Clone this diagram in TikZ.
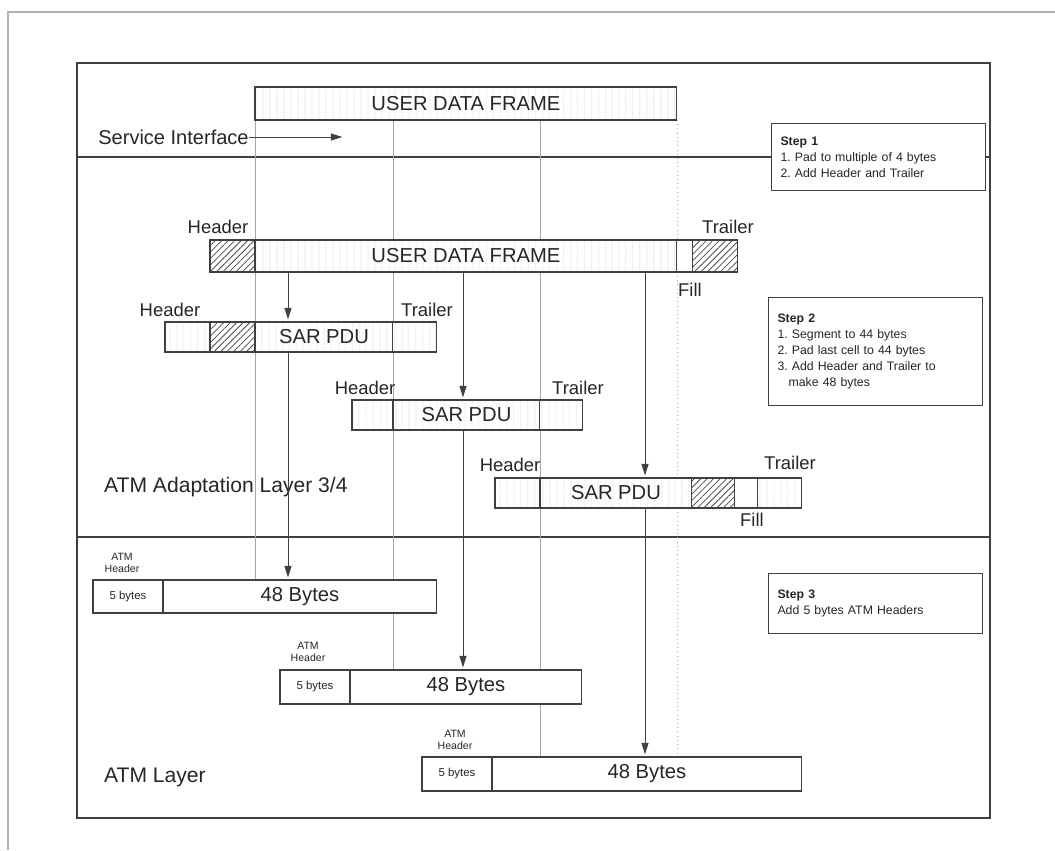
\documentclass[tikz,border=0pt]{standalone}
\usepackage{fontspec}
\setmainfont{Liberation Sans}
\usetikzlibrary{positioning,arrows.meta,patterns.meta}
\pgfdeclarelayer{background}
\pgfsetlayers{background,main}
\frenchspacing

\begin{document}
\begin{tikzpicture} [
    x=0.02cm, y=-0.02cm,
    every node/.style={text=black!85},
    seg/.style={rectangle, draw=black!75, line width=0.6pt, inner sep=0pt, outer sep=0pt, anchor=north west},
    plain/.style={seg, fill=white},
    light/.style={seg, preaction={fill=white}, pattern={Lines[angle=90,distance=4pt,line width=0.3pt]}, pattern color=gray!35},
    hatch/.style={seg, preaction={fill=white}, pattern={Lines[angle=45,distance=2.6pt,line width=0.45pt]}, pattern color=black!70},
    txt/.style={font=\fontsize{11.5}{13}\selectfont},
    lbl/.style={font=\fontsize{10.5}{12}\selectfont},
    layer/.style={font=\fontsize{12}{14}\selectfont, anchor=west},
    cellfont/.style={font=\fontsize{6.5}{7.5}\selectfont},
    hdrlbl/.style={font=\fontsize{6}{7}\selectfont, align=center},
    stepbox/.style={rectangle, draw=black!75, line width=0.6pt, fill=white, anchor=north west, align=left, text width=3.92cm, inner xsep=0.18cm, font=\fontsize{7}{9}\selectfont},
    arr/.style={-{Triangle[length=6.5pt,width=4pt]}, line width=0.5pt, draw=black!75, shorten >=1.5pt},
    guide/.style={line width=0.4pt, draw=gray!70},
    frame/.style={line width=0.8pt, draw=black!75}
]
\useasboundingbox (0,0) rectangle (1055,850);

% Service interface
\node[light, minimum width=8.44cm, minimum height=0.66cm, txt] (u0) at (255,87) {USER DATA FRAME};
\node[lbl, anchor=west, inner xsep=0pt, font=\fontsize{11.4}{13}\selectfont] (svc) at (98,137) {Service Interface};
\coordinate (svcend) at (345,137);

% Adaptation layer: frame with header and trailer
\node[hatch, minimum width=0.9cm, minimum height=0.64cm] (h2) at (210,240) {};
\node[light, right=0pt of h2, minimum width=8.44cm, minimum height=0.64cm, txt] (u2) {USER DATA FRAME};
\node[plain, right=0pt of u2, minimum width=0.32cm, minimum height=0.64cm] (f2) {};
\node[hatch, right=0pt of f2, minimum width=0.9cm, minimum height=0.64cm] (t2) {};

% Segments
\node[light, minimum width=0.9cm, minimum height=0.6cm] (s1x) at (165,322) {};
\node[hatch, right=0pt of s1x, minimum width=0.9cm, minimum height=0.6cm] (s1h) {};
\node[light, right=0pt of s1h, minimum width=2.76cm, minimum height=0.6cm, txt] (s1) {SAR PDU};
\node[light, right=0pt of s1, minimum width=0.88cm, minimum height=0.6cm] (s1t) {};

\node[light, minimum width=0.82cm, minimum height=0.6cm] (s2h) at (352,400) {};
\node[light, right=0pt of s2h, minimum width=2.94cm, minimum height=0.6cm, txt] (s2) {SAR PDU};
\node[light, right=0pt of s2, minimum width=0.86cm, minimum height=0.6cm] (s2t) {};

\node[light, minimum width=0.9cm, minimum height=0.6cm] (s3h) at (495,478) {};
\node[light, right=0pt of s3h, minimum width=3.04cm, minimum height=0.6cm, txt] (s3) {SAR PDU};
\node[hatch, right=0pt of s3, minimum width=0.86cm, minimum height=0.6cm] (s3x) {};
\node[plain, right=0pt of s3x, minimum width=0.46cm, minimum height=0.6cm] (s3f) {};
\node[light, right=0pt of s3f, minimum width=0.88cm, minimum height=0.6cm] (s3t) {};

% ATM cells
\node[plain, minimum width=1.4cm, minimum height=0.66cm, cellfont] (c1h) at (93,580) {5 bytes};
\node[plain, right=0pt of c1h, minimum width=5.48cm, minimum height=0.66cm, txt] (c1) {48 Bytes};
\node[plain, minimum width=1.4cm, minimum height=0.68cm, cellfont] (c2h) at (280,670) {5 bytes};
\node[plain, right=0pt of c2h, minimum width=4.64cm, minimum height=0.68cm, txt] (c2) {48 Bytes};
\node[plain, minimum width=1.4cm, minimum height=0.68cm, cellfont] (c3h) at (422,757) {5 bytes};
\node[plain, right=0pt of c3h, minimum width=6.2cm, minimum height=0.68cm, txt] (c3) {48 Bytes};

% Steps
\node[stepbox, minimum height=1.34cm] (step1) at (771,123) {\textbf{Step 1}\\1. Pad to multiple of 4 bytes\\2. Add Header and Trailer};
\node[stepbox, minimum height=2.16cm] (step2) at (768,297) {\textbf{Step 2}\\1. Segment to 44 bytes\\2. Pad last cell to 44 bytes\\3. Add Header and Trailer to\\\hspace*{0.9em}make 48 bytes};
\node[stepbox, minimum height=1.2cm] (step3) at (768,573) {\textbf{Step 3}\\Add 5 bytes ATM Headers};

% Labels
\node[lbl] (lh2) at (218,227) {Header};
\node[lbl] (lt2) at (728,227) {Trailer};
\node[lbl] (lf2) at (690,290) {Fill};
\node[lbl] (lh1) at (170,310) {Header};
\node[lbl] (lt1) at (427,310) {Trailer};
\node[lbl] (lh3) at (365,388) {Header};
\node[lbl] (lt3) at (578,388) {Trailer};
\node[lbl] (lh4) at (510,465) {Header};
\node[lbl] (lt4) at (790,463) {Trailer};
\node[lbl] (lf4) at (752,520) {Fill};
\node[hdrlbl] (a1) at (122,563) {ATM\\Header};
\node[hdrlbl] (a2) at (308,652) {ATM\\Header};
\node[hdrlbl] (a3) at (455,740) {ATM\\Header};
\node[layer] (aal) at (98,487) {ATM Adaptation Layer 3/4};
\node[layer] (atm) at (98,777) {ATM Layer};

% Frame and guide lines
\begin{pgfonlayer}{background}
\draw[line width=1.4pt, draw=gray!60] (8,850) -- (8,12) -- (1055,12);
\draw[frame] (77,63) rectangle (990,818);
\draw[frame] (77,157) -- (990,157);
\draw[frame] (77,537) -- (990,537);
\draw[guide] (u0.south west) -- (u0.south west |- c1.north);
\draw[guide] (s2h.east |- u0.south) -- (s2h.east |- c2.north);
\draw[guide] (s3h.east |- u0.south) -- (s3h.east |- c3.north);
\draw[guide, dotted] (u0.south east) -- (u0.south east |- c3.north);
\end{pgfonlayer}

% Connections
\coordinate (colA) at (288,0);
\coordinate (colB) at (463,0);
\coordinate (colC) at (645,0);
\draw[arr] (svc.east) -- (svcend);
\draw[arr] (u2.south -| colA) -- (s1.north -| colA);
\draw[arr] (s1.south -| colA) -- (c1.north -| colA);
\draw[arr] (u2.south -| colB) -- (s2.north -| colB);
\draw[arr] (s2.south -| colB) -- (c2.north -| colB);
\draw[arr] (u2.south -| colC) -- (s3.north -| colC);
\draw[arr] (s3.south -| colC) -- (c3.north -| colC);

\end{tikzpicture}
\end{document}
